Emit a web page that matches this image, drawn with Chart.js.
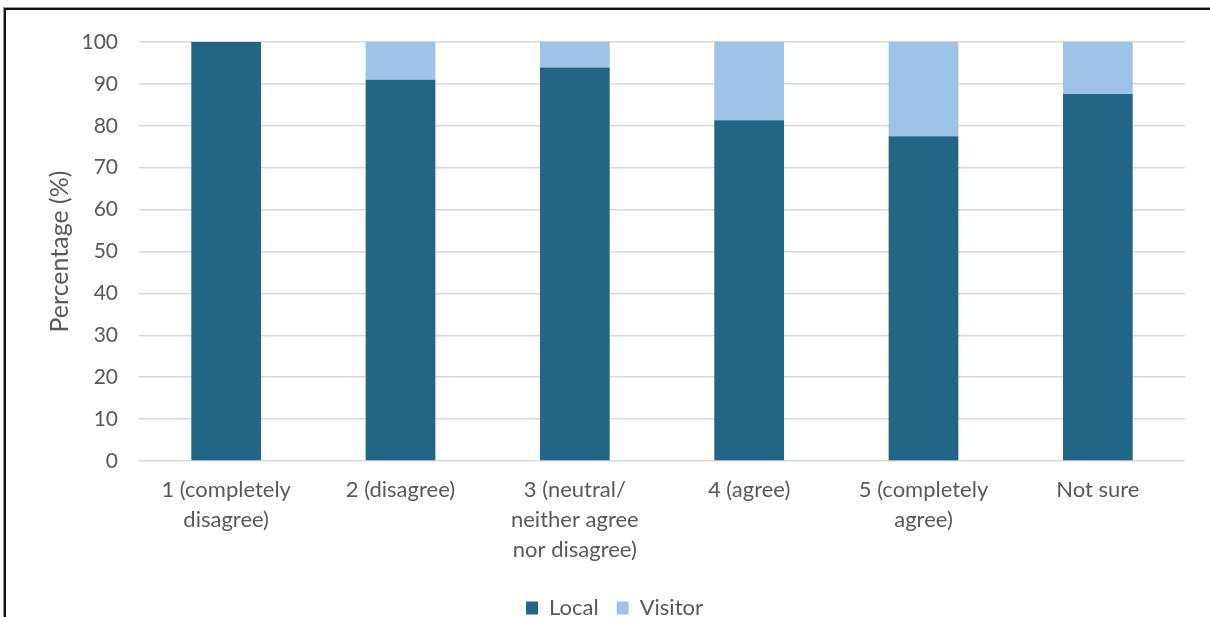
<!DOCTYPE html>
<html>
<head>
<meta charset="utf-8">
<script src="https://cdn.jsdelivr.net/npm/chart.js@4.4.1/dist/chart.umd.min.js"></script>
<style>
  html, body { margin: 0; padding: 0; background: #fff; }
  #wrap { position: relative; width: 1210px; height: 617px; overflow: hidden; }
  #frame {
    position: absolute; left: 4px; top: 8px; width: 1300px; height: 700px;
    border-left: 2px solid #111; border-top: 2px solid #111;
    box-shadow: -1px -1px 0 #999; pointer-events: none;
  }
</style>
</head>
<body>
<div id="wrap">
  <canvas id="chart"></canvas>
  <div id="frame"></div>
</div>
<script>
// answer categories (x axis)
const categories = [
  ['1 (completely', 'disagree)'],
  ['2 (disagree)'],
  ['3 (neutral/', 'neither agree', 'nor disagree)'],
  ['4 (agree)'],
  ['5 (completely', 'agree)'],
  ['Not sure'],
];

// share of respondents, %
const localValues = [100, 91.0, 93.9, 81.3, 77.5, 87.6];
const visitorValues = [0, 9.0, 6.1, 18.7, 22.5, 12.4];

const yTicks = [0, 10, 20, 30, 40, 50, 60, 70, 80, 90, 100];

const textColor = '#595959';
const fontFamily = 'Lato, "Open Sans", sans-serif';

const ctx = document.getElementById('chart').getContext('2d');

new Chart(ctx, {
  type: 'bar',
  data: {
    labels: categories,
    datasets: [
      {
        label: 'Local',
        data: localValues,
        backgroundColor: '#236586',
        borderWidth: 0,
      },
      {
        label: 'Visitor',
        data: visitorValues,
        backgroundColor: '#9dc3e6',
        borderWidth: 0,
      },
    ],
  },
  options: {
    responsive: true,
    maintainAspectRatio: false,
    animation: false,
    layout: {
      // left padding keeps the legend centred where the original has it
      padding: { left: 44, right: 25, top: 42, bottom: -12 },
    },
    datasets: {
      bar: {
        categoryPercentage: 1,
        barPercentage: 0.4,
      },
    },
    plugins: {
      legend: {
        position: 'bottom',
        labels: {
          color: textColor,
          font: { family: fontFamily, size: 22 },
          boxWidth: 12,
          boxHeight: 13,
          padding: 18,
        },
      },
      tooltip: { enabled: false },
    },
    scales: {
      x: {
        stacked: true,
        grid: { display: false },
        border: { display: false },
        ticks: {
          color: textColor,
          font: { family: fontFamily, size: 22, lineHeight: 1.36 },
          padding: 6,
          maxRotation: 0,
          minRotation: 0,
        },
        afterFit: (scale) => { scale.height = 118; },
      },
      y: {
        stacked: true,
        min: 0,
        max: 100,
        afterBuildTicks: (scale) => {
          scale.ticks = yTicks.map((v) => ({ value: v }));
        },
        grid: { color: '#d9d9d9', lineWidth: 1.5, drawTicks: false },
        border: { display: false },
        ticks: {
          color: textColor,
          font: { family: fontFamily, size: 21 },
          padding: 21,
        },
        title: {
          display: true,
          text: 'Percentage (%)',
          color: textColor,
          font: { family: fontFamily, size: 25, lineHeight: 1.2 },
          padding: { top: 1, bottom: 0 },
        },
        afterFit: (scale) => { scale.width = 95; },
      },
    },
  },
});
</script>
</body>
</html>
